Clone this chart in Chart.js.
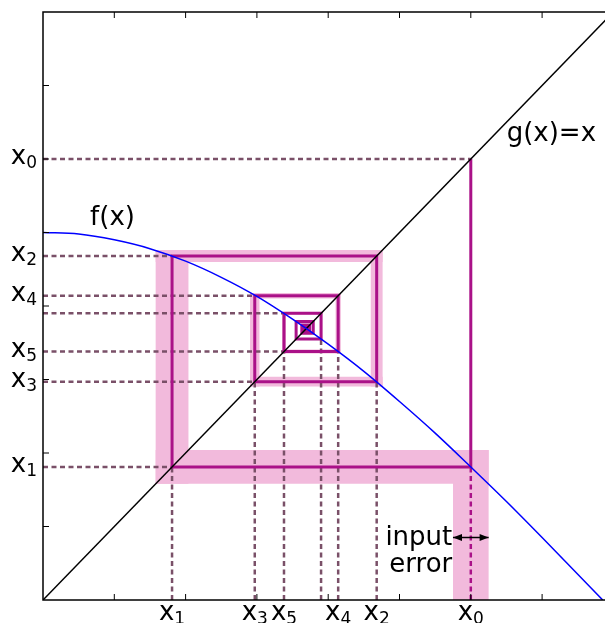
<!DOCTYPE html>
<html>
<head>
<meta charset="utf-8">
<script src="https://cdn.jsdelivr.net/npm/chart.js@4.4.0/dist/chart.umd.min.js"></script>
<style>
  html, body { margin: 0; padding: 0; background: #fff; overflow: hidden; }
  canvas { display: block; }
</style>
</head>
<body>
<canvas id="cobweb" width="620" height="623"></canvas>
<script>
// f(x)
const curveX = [0, 0.5, 1, 1.5, 2, 2.5, 3, 3.5, 4, 4.5, 5, 5.5, 6, 6.5, 7, 7.5, 7.85];
const curveY = [5.00, 4.98, 4.90, 4.78, 4.61, 4.39, 4.13, 3.82, 3.48, 3.11, 2.70, 2.27, 1.81, 1.34, 0.85, 0.35, 0.00];

// g(x) = x
const identityX = [0, 8];

// iterates x0, x1, x2 ...
const iterates = [6.00, 1.81, 4.68, 2.97, 4.14, 3.38, 3.90, 3.55, 3.79, 3.63, 3.74, 3.67, 3.71, 3.68, 3.70];
// half width of the pink error band around each iterate
const errors = [0.25, 0.23, 0.083, 0.066, 0.037, 0.027, 0.017, 0.012, 0.008, 0.006, 0.004, 0.003, 0.002, 0.002, 0.001];

// axis labels: "x" with a subscript index
const labelBase = 'x';
const labelSubs = ['0', '1', '2', '3', '4', '5'];
const axisTicks = [1, 2, 3, 4, 5, 6, 7];
const guideCount = 7; // dotted guides drawn for x0..x6

const notes = [
    { text: 'f(x)', x: 0.975, y: 5.19, align: 'center', base: 'middle' },
    { text: 'g(x)=x', x: 7.13, y: 6.33, align: 'center', base: 'middle' },
    { text: 'input', x: 5.74, y: 0.75, align: 'right', base: 'alphabetic' },
    { text: 'error', x: 5.74, y: 0.38, align: 'right', base: 'alphabetic' }
];
const arrowY = 0.85;

const colors = {
    band: '#f2badc',
    path: '#aa1188',
    guide: '#7a5068',
    curve: '#0000ff',
    identity: '#000000'
};
const FONT = '"DejaVu Sans", sans-serif';

function line(points, opts) {
    return Object.assign({
        data: points,
        showLine: true,
        fill: false,
        pointRadius: 0,
        tension: 0
    }, opts);
}

// pink band: one rectangle per leg of the cobweb
function band(xa, xb, ya, yb) {
    return line([{x: xa, y: ya}, {x: xa, y: yb}, {x: xb, y: yb}, {x: xb, y: ya}], {
        borderWidth: 0,
        backgroundColor: colors.band,
        fill: 'shape',
        order: 10
    });
}

function span(a, ea, b, eb) {
    return a < b ? [a - ea, b + eb] : [b - eb, a + ea];
}

const datasets = [];

datasets.push(band(iterates[0] - errors[0], iterates[0] + errors[0], 0, iterates[1] + errors[1]));
for (let n = 1; n < iterates.length - 1; n++) {
    const h = span(iterates[n - 1], errors[n - 1], iterates[n], errors[n]);
    datasets.push(band(h[0], h[1], iterates[n] - errors[n], iterates[n] + errors[n]));
    const v = span(iterates[n], errors[n], iterates[n + 1], errors[n + 1]);
    datasets.push(band(iterates[n] - errors[n], iterates[n] + errors[n], v[0], v[1]));
}

// dotted guides to the axes
for (let n = 0; n < guideCount; n++) {
    const xn = iterates[n];
    const top = n === 0 ? iterates[1] : (n % 2 ? xn : iterates[n + 1]);
    const reach = n === 0 ? xn : (n % 2 ? xn : iterates[n - 1]);
    datasets.push(line([{x: xn, y: 0}, {x: xn, y: top}], {
        borderColor: n === 0 ? colors.path : colors.guide,
        borderWidth: 2.5,
        borderDash: [5, 3.5],
        order: 8
    }));
    datasets.push(line([{x: 0, y: xn}, {x: reach, y: xn}], {
        borderColor: colors.guide,
        borderWidth: 2.5,
        borderDash: [5, 3.5],
        order: 8
    }));
}

// cobweb path
const web = [];
for (let n = 0; n < iterates.length - 1; n++) {
    web.push({x: iterates[n], y: iterates[n]});
    web.push({x: iterates[n], y: iterates[n + 1]});
}
datasets.push(line(web, { borderColor: colors.path, borderWidth: 3, borderJoinStyle: 'miter', order: 5 }));

datasets.push(line(identityX.map(v => ({x: v, y: v})), { borderColor: colors.identity, borderWidth: 1.5, order: 3 }));
datasets.push(line(curveX.map((v, i) => ({x: v, y: curveY[i]})), {
    borderColor: colors.curve,
    borderWidth: 1.5,
    cubicInterpolationMode: 'monotone',
    order: 2
}));

// input error arrow (heads added by the plugin)
datasets.push(line([{x: iterates[0] - errors[0], y: arrowY}, {x: iterates[0] + errors[0], y: arrowY}], {
    borderColor: '#000',
    borderWidth: 1.5,
    order: 1,
    arrow: true
}));

const frame = {
    id: 'frame',
    afterDatasetsDraw(chart) {
        const {ctx, chartArea: a, scales: {x, y}} = chart;
        ctx.save();

        // arrow heads
        chart.data.datasets.forEach((ds, i) => {
            if (!ds.arrow) return;
            const pts = chart.getDatasetMeta(i).data;
            ctx.fillStyle = '#000';
            [[pts[0], pts[1]], [pts[1], pts[0]]].forEach(([tip, from]) => {
                const dir = Math.sign(tip.x - from.x);
                ctx.beginPath();
                ctx.moveTo(tip.x, tip.y);
                ctx.lineTo(tip.x - dir * 9, tip.y - 3.5);
                ctx.lineTo(tip.x - dir * 9, tip.y + 3.5);
                ctx.closePath();
                ctx.fill();
            });
        });

        ctx.strokeStyle = '#000';
        ctx.lineWidth = 1.5;
        ctx.strokeRect(a.left, a.top, a.right - a.left, a.bottom - a.top);
        ctx.lineWidth = 1;
        ctx.beginPath();
        axisTicks.forEach(v => {
            const px = x.getPixelForValue(v);
            const py = y.getPixelForValue(v);
            ctx.moveTo(px, a.bottom); ctx.lineTo(px, a.bottom - 6);
            ctx.moveTo(px, a.top); ctx.lineTo(px, a.top + 6);
            ctx.moveTo(a.left, py); ctx.lineTo(a.left + 6, py);
            ctx.moveTo(a.right, py); ctx.lineTo(a.right - 6, py);
        });
        ctx.stroke();

        ctx.fillStyle = '#000';
        ctx.textBaseline = 'alphabetic';
        ctx.textAlign = 'left';
        const baseFont = '26px ' + FONT;
        const subFont = '17px ' + FONT;
        function label(sub, left, baseline) {
            ctx.font = baseFont;
            const w = ctx.measureText(labelBase).width;
            ctx.fillText(labelBase, left, baseline);
            ctx.font = subFont;
            ctx.fillText(sub, left + w, baseline + 4);
        }
        function labelWidth(sub) {
            ctx.font = baseFont;
            const w = ctx.measureText(labelBase).width;
            ctx.font = subFont;
            return w + ctx.measureText(sub).width;
        }
        labelSubs.forEach((s, i) => {
            const w = labelWidth(s);
            label(s, a.left - 6 - w, y.getPixelForValue(iterates[i]) + 5);
            label(s, x.getPixelForValue(iterates[i]) - w / 2, a.bottom + 20);
        });

        ctx.font = '26px ' + FONT;
        notes.forEach(n => {
            ctx.textAlign = n.align;
            ctx.textBaseline = n.base;
            ctx.fillText(n.text, x.getPixelForValue(n.x), y.getPixelForValue(n.y));
        });
        ctx.restore();
    }
};

new Chart(document.getElementById('cobweb'), {
    type: 'scatter',
    data: { datasets: datasets },
    options: {
        responsive: false,
        devicePixelRatio: 1,
        animation: false,
        events: [],
        layout: { padding: { left: 43, top: 12, right: 6.6, bottom: 23 } },
        scales: {
            x: { type: 'linear', min: 0, max: 8, display: false },
            y: { type: 'linear', min: 0, max: 8, display: false }
        },
        plugins: {
            legend: { display: false },
            tooltip: { enabled: false }
        }
    },
    plugins: [frame]
});
</script>
</body>
</html>
